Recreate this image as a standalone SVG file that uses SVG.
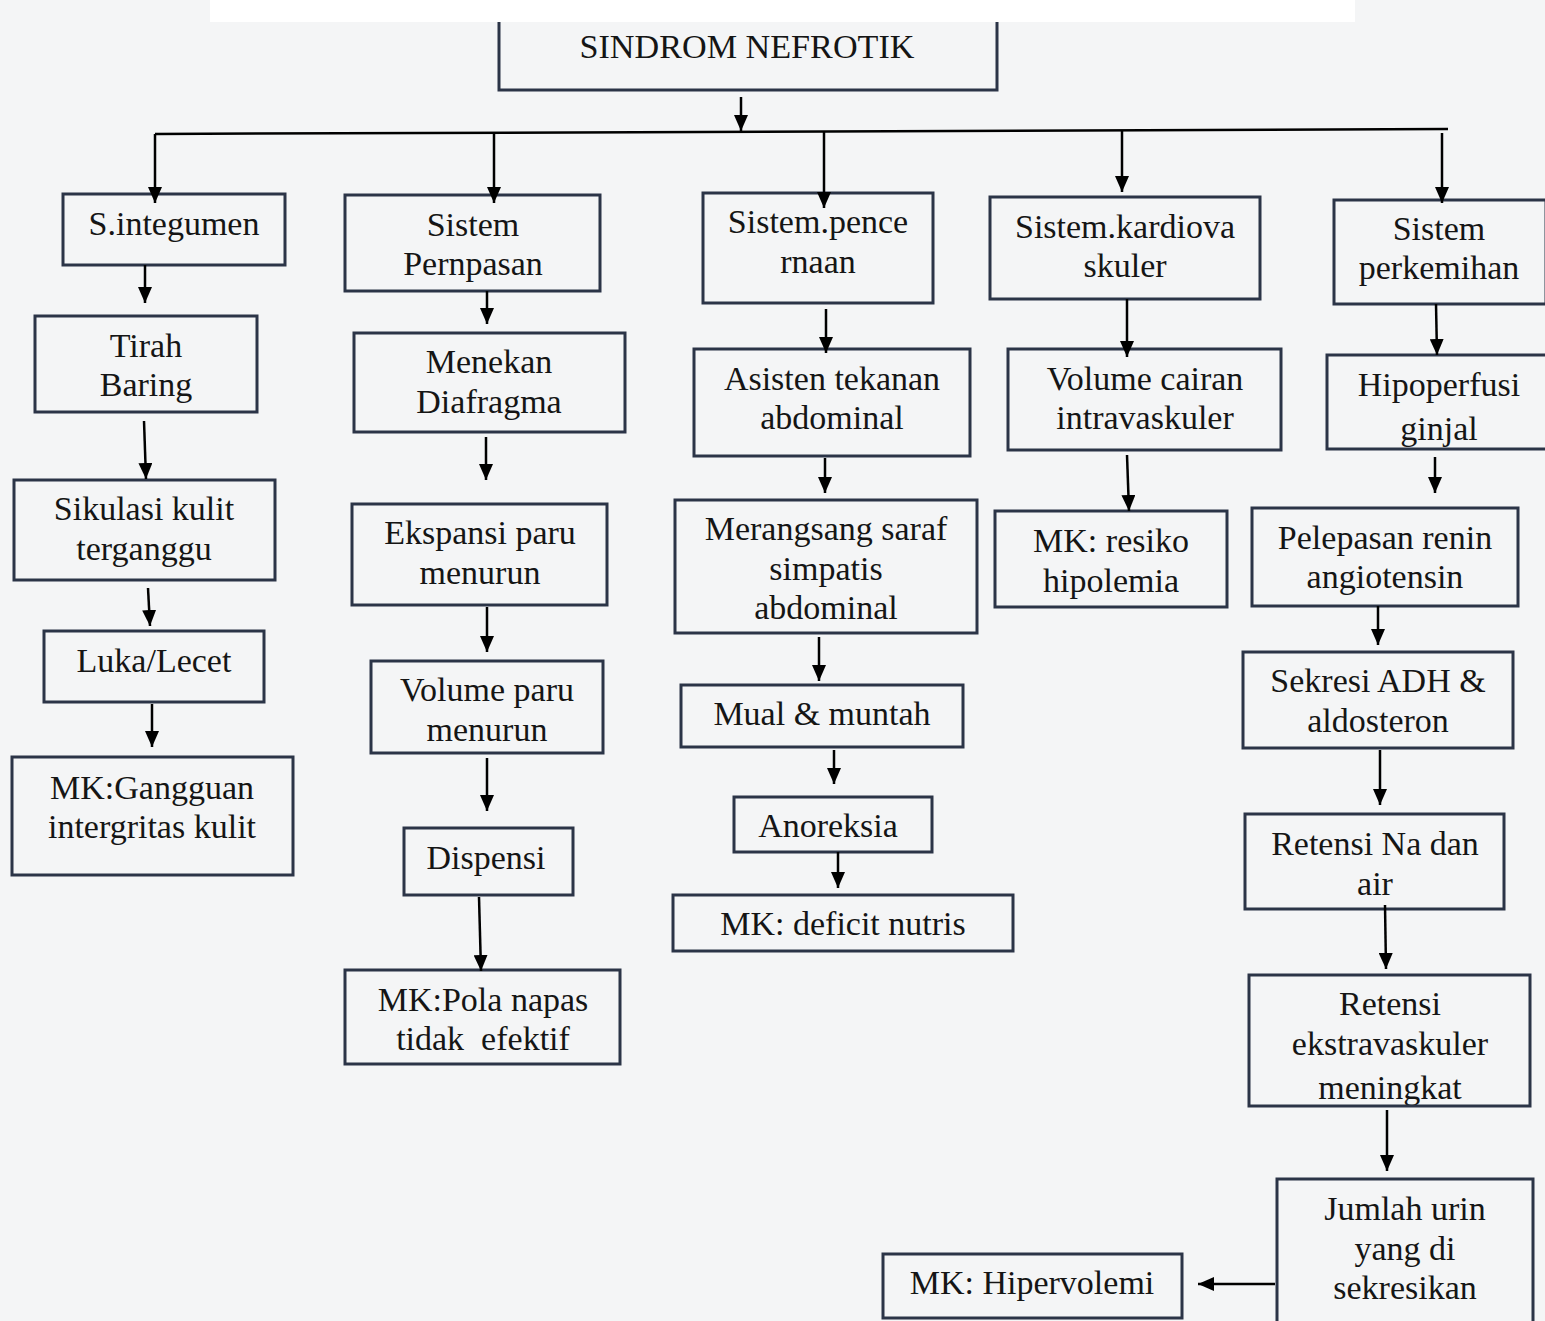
<svg xmlns="http://www.w3.org/2000/svg" width="1545" height="1321" viewBox="0 0 1545 1321">
<defs>
<style>
.bx{fill:none;stroke:#2b3447;stroke-width:3}
.t{font-family:"Liberation Serif","Times New Roman",serif;font-size:34px;fill:#151515;text-anchor:middle;white-space:pre}
.c{stroke:#000;stroke-width:2.5;fill:none;marker-end:url(#ah)}
.h{stroke:#000;stroke-width:2.5;fill:none}
</style>
<marker id="ah" markerUnits="userSpaceOnUse" markerWidth="16" markerHeight="14" refX="16" refY="7" orient="auto">
<path d="M0,0 L16,7 L0,14 Z" fill="#000"/>
</marker>
<clipPath id="cp22"><rect x="1327" y="355" width="220" height="93"/></clipPath>
<clipPath id="cp26"><rect x="1249" y="975" width="281" height="130"/></clipPath>
</defs>
<rect x="0" y="0" width="1545" height="1321" fill="#f4f5f6"/>
<rect x="210" y="0" width="1145" height="22" fill="#ffffff"/>

<g id="n0">
<path class="bx" d="M499,22 V90 H997 V22"/>
<text class="t" x="747" y="58" font-size="30" textLength="335" lengthAdjust="spacingAndGlyphs">SINDROM NEFROTIK</text>
</g>

<g id="n1"><rect class="bx" x="63" y="194" width="222" height="71"/><text class="t" x="174" y="235">S.integumen</text></g>
<g id="n2"><rect class="bx" x="35" y="316" width="222" height="96"/><text class="t" x="146" y="357">Tirah</text><text class="t" x="146" y="396">Baring</text></g>
<g id="n3"><rect class="bx" x="14" y="480" width="261" height="100"/><text class="t" x="144" y="520">Sikulasi kulit</text><text class="t" x="144" y="560">terganggu</text></g>
<g id="n4"><rect class="bx" x="44" y="631" width="220" height="71"/><text class="t" x="154" y="672">Luka/Lecet</text></g>
<g id="n5"><rect class="bx" x="12" y="757" width="281" height="118"/><text class="t" x="152" y="799">MK:Gangguan</text><text class="t" x="152" y="838">intergritas kulit</text></g>

<g id="n6"><rect class="bx" x="345" y="195" width="255" height="96"/><text class="t" x="473" y="236">Sistem</text><text class="t" x="473" y="275">Pernpasan</text></g>
<g id="n7"><rect class="bx" x="354" y="333" width="271" height="99"/><text class="t" x="489" y="373">Menekan</text><text class="t" x="489" y="413">Diafragma</text></g>
<g id="n8"><rect class="bx" x="352" y="504" width="255" height="101"/><text class="t" x="480" y="544">Ekspansi paru</text><text class="t" x="480" y="584">menurun</text></g>
<g id="n9"><rect class="bx" x="371" y="661" width="232" height="92"/><text class="t" x="487" y="701">Volume paru</text><text class="t" x="487" y="741">menurun</text></g>
<g id="n10"><rect class="bx" x="404" y="828" width="169" height="67"/><text class="t" x="486" y="869">Dispensi</text></g>
<g id="n11"><rect class="bx" x="345" y="970" width="275" height="94"/><text class="t" x="483" y="1011">MK:Pola napas</text><text class="t" x="483" y="1050">tidak  efektif</text></g>

<g id="n12"><rect class="bx" x="703" y="193" width="230" height="110"/><text class="t" x="818" y="233">Sistem.pence</text><text class="t" x="818" y="273">rnaan</text></g>
<g id="n13"><rect class="bx" x="694" y="349" width="276" height="107"/><text class="t" x="832" y="390">Asisten tekanan</text><text class="t" x="832" y="429">abdominal</text></g>
<g id="n14"><rect class="bx" x="675" y="500" width="302" height="133"/><text class="t" x="826" y="540">Merangsang saraf</text><text class="t" x="826" y="580">simpatis</text><text class="t" x="826" y="619">abdominal</text></g>
<g id="n15"><rect class="bx" x="681" y="685" width="282" height="62"/><text class="t" x="822" y="725">Mual &amp; muntah</text></g>
<g id="n16"><rect class="bx" x="734" y="797" width="198" height="55"/><text class="t" x="828" y="837">Anoreksia</text></g>
<g id="n17"><rect class="bx" x="673" y="895" width="340" height="56"/><text class="t" x="843" y="935">MK: deficit nutris</text></g>

<g id="n18"><rect class="bx" x="990" y="197" width="270" height="102"/><text class="t" x="1125" y="238">Sistem.kardiova</text><text class="t" x="1125" y="277">skuler</text></g>
<g id="n19"><rect class="bx" x="1008" y="349" width="273" height="101"/><text class="t" x="1145" y="390">Volume cairan</text><text class="t" x="1145" y="429">intravaskuler</text></g>
<g id="n20"><rect class="bx" x="995" y="511" width="232" height="96"/><text class="t" x="1111" y="552">MK: resiko</text><text class="t" x="1111" y="592">hipolemia</text></g>

<g id="n21"><rect class="bx" x="1334" y="200" width="212" height="104"/><text class="t" x="1439" y="240">Sistem</text><text class="t" x="1439" y="279">perkemihan</text></g>
<g id="n22"><g clip-path="url(#cp22)"><text class="t" x="1439" y="396">Hipoperfusi</text><text class="t" x="1439" y="440">ginjal</text></g><rect class="bx" x="1327" y="355" width="220" height="94"/></g>
<g id="n23"><rect class="bx" x="1252" y="508" width="266" height="98"/><text class="t" x="1385" y="549">Pelepasan renin</text><text class="t" x="1385" y="588">angiotensin</text></g>
<g id="n24"><rect class="bx" x="1243" y="652" width="270" height="96"/><text class="t" x="1378" y="692">Sekresi ADH &amp;</text><text class="t" x="1378" y="732">aldosteron</text></g>
<g id="n25"><rect class="bx" x="1245" y="814" width="259" height="95"/><text class="t" x="1375" y="855">Retensi Na dan</text><text class="t" x="1375" y="895">air</text></g>
<g id="n26"><g clip-path="url(#cp26)"><text class="t" x="1390" y="1015">Retensi</text><text class="t" x="1390" y="1055">ekstravaskuler</text><text class="t" x="1390" y="1099">meningkat</text></g><rect class="bx" x="1249" y="975" width="281" height="131"/></g>
<g id="n27"><rect class="bx" x="1277" y="1179" width="256" height="150"/><text class="t" x="1405" y="1220">Jumlah urin</text><text class="t" x="1405" y="1260">yang di</text><text class="t" x="1405" y="1299">sekresikan</text></g>
<g id="n28"><rect class="bx" x="883" y="1254" width="299" height="64"/><text class="t" x="1032" y="1294">MK: Hipervolemi</text></g>

<g id="connectors">
<line class="c" x1="741" y1="97" x2="741" y2="131"/>
<line class="h" x1="155" y1="134" x2="1448" y2="129"/>
<line class="c" x1="155" y1="134" x2="155" y2="203"/>
<line class="c" x1="494" y1="133" x2="494" y2="203"/>
<line class="c" x1="824" y1="132" x2="824" y2="208"/>
<line class="c" x1="1122" y1="131" x2="1122" y2="192"/>
<line class="c" x1="1442" y1="133" x2="1442" y2="203"/>

<line class="c" x1="145" y1="265" x2="145" y2="303"/>
<line class="c" x1="144" y1="421" x2="146" y2="479"/>
<line class="c" x1="148" y1="588" x2="150" y2="626"/>
<line class="c" x1="152" y1="704" x2="152" y2="747"/>

<line class="c" x1="487" y1="291" x2="487" y2="324"/>
<line class="c" x1="486" y1="437" x2="486" y2="480"/>
<line class="c" x1="487" y1="607" x2="487" y2="652"/>
<line class="c" x1="487" y1="758" x2="487" y2="811"/>
<line class="c" x1="479" y1="897" x2="481" y2="971"/>

<line class="c" x1="826" y1="309" x2="826" y2="353"/>
<line class="c" x1="825" y1="458" x2="825" y2="493"/>
<line class="c" x1="819" y1="637" x2="819" y2="681"/>
<line class="c" x1="834" y1="750" x2="834" y2="784"/>
<line class="c" x1="838" y1="852" x2="838" y2="888"/>

<line class="c" x1="1127" y1="299" x2="1127" y2="357"/>
<line class="c" x1="1127" y1="455" x2="1129" y2="511"/>

<line class="c" x1="1436" y1="304" x2="1437" y2="355"/>
<line class="c" x1="1435" y1="457" x2="1435" y2="493"/>
<line class="c" x1="1378" y1="606" x2="1378" y2="645"/>
<line class="c" x1="1380" y1="750" x2="1380" y2="805"/>
<line class="c" x1="1385" y1="905" x2="1386" y2="969"/>
<line class="c" x1="1387" y1="1110" x2="1387" y2="1171"/>
<line class="c" x1="1275" y1="1284" x2="1198" y2="1284"/>
</g>
</svg>
